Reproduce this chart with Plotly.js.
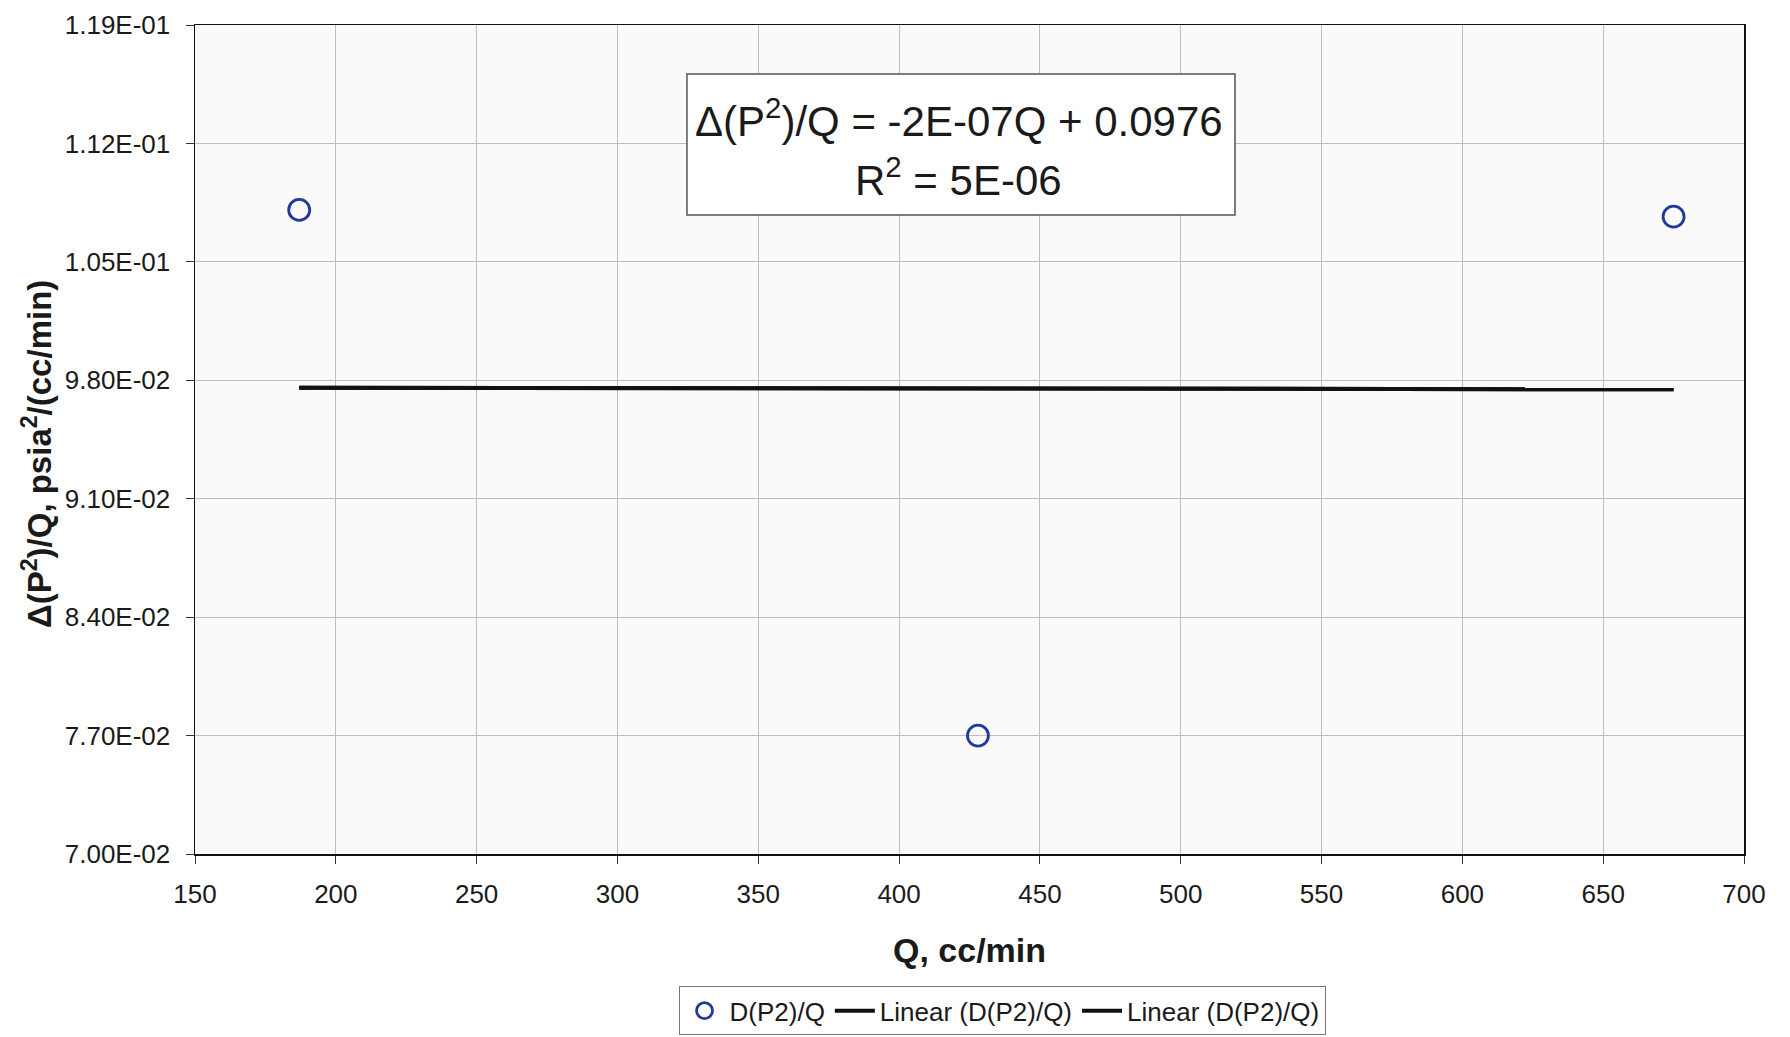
<!DOCTYPE html>
<html>
<head>
<meta charset="utf-8">
<script src="https://cdn.plot.ly/plotly-3.0.1.min.js"></script>
<style>
  html, body { margin: 0; padding: 0; background: #ffffff; }
  #chart { width: 1790px; height: 1037px; }
</style>
</head>
<body>
<div id="chart"></div>
<script>
// Flow rate Q (cc/min) and measured Δ(P²)/Q
const flowRate = [187, 428, 675];
const dP2OverQ = [0.10807, 0.07700, 0.10767];

// Linear trendline coefficients, as printed in the equation box
const trendSlope = -2e-7;
const trendIntercept = 0.0976;
const trendR2 = '5E-06';

// Trendline drawn across the span of the measurements
const trendQ = [Math.min(...flowRate), Math.max(...flowRate)];
const trendY = trendQ.map(q => trendSlope * q + trendIntercept);

// Y axis ticks in spreadsheet-style scientific notation
const yTickVals = [0.070, 0.077, 0.084, 0.091, 0.098, 0.105, 0.112, 0.119];
const yTickLabels = ['7.00E-02', '7.70E-02', '8.40E-02', '9.10E-02', '9.80E-02', '1.05E-01', '1.12E-01', '1.19E-01'];

const seriesName = 'D(P2)/Q';
const trendName = 'Linear (D(P2)/Q)';
const yTitle = '<b>Δ(P<sup>2</sup>)/Q, psia<sup>2</sup>/(cc/min)</b>';

const font = 'Liberation Sans, Arial, sans-serif';

const traces = [
  {
    x: flowRate, y: dP2OverQ, name: seriesName,
    type: 'scatter', mode: 'markers',
    marker: { symbol: 'circle-open', size: 21, color: '#20399a', line: { width: 2.8, color: '#20399a' } }
  },
  {
    x: trendQ, y: trendY, name: trendName,
    type: 'scatter', mode: 'lines',
    line: { color: '#111111', width: 4 }
  },
  {
    x: trendQ, y: trendY, name: trendName,
    type: 'scatter', mode: 'lines',
    line: { color: '#111111', width: 4 }
  }
];

const layout = {
  width: 1790, height: 1037,
  margin: { l: 195, r: 46, t: 25, b: 183, autoexpand: false },
  paper_bgcolor: '#ffffff',
  plot_bgcolor: '#fafafa',
  font: { family: font, color: '#1a1a1a', size: 26 },
  showlegend: true,
  legend: {
    orientation: 'h',
    x: 0.521, xanchor: 'center',
    y: -0.1595, yanchor: 'top',
    bgcolor: '#ffffff',
    bordercolor: '#777777', borderwidth: 1,
    font: { family: font, size: 26, color: '#1a1a1a' },
    itemwidth: 40,
    tracegroupgap: 0
  },
  xaxis: {
    range: [150, 700],
    dtick: 50, tick0: 150,
    showgrid: true, gridcolor: '#bdbdbd', gridwidth: 1,
    zeroline: false,
    showline: true, linecolor: '#111111', linewidth: 1.5, mirror: true,
    ticks: 'outside', ticklen: 8, tickcolor: '#333333',
    ticklabelstandoff: 8,
    tickfont: { family: font, size: 26, color: '#1a1a1a' },
    title: { text: '<b>Q, cc/min</b>', font: { family: font, size: 34, color: '#1a1a1a' }, standoff: 30 },
    automargin: false
  },
  yaxis: {
    range: [0.070, 0.119],
    tickmode: 'array', tickvals: yTickVals, ticktext: yTickLabels,
    showgrid: true, gridcolor: '#bdbdbd', gridwidth: 1,
    zeroline: false,
    showline: true, linecolor: '#111111', linewidth: 1.5, mirror: true,
    ticks: 'outside', ticklen: 8, tickcolor: '#333333',
    ticklabelstandoff: 10,
    tickfont: { family: font, size: 26, color: '#1a1a1a' },
    automargin: false
  },
  shapes: [
    {
      type: 'rect', xref: 'paper', yref: 'paper',
      x0: 0.3176, x1: 0.6714, y0: 0.7708, y1: 0.9409,
      fillcolor: '#ffffff', line: { color: '#555555', width: 1.5 },
      layer: 'above'
    }
  ],
  annotations: [
    {
      xref: 'paper', yref: 'paper', x: 0.4932, y: 0.8883,
      xanchor: 'center', yanchor: 'middle', showarrow: false,
      text: 'Δ(P<sup>2</sup>)/Q = ' + (trendSlope < 0 ? '-' : '') + '2E-07Q + ' + trendIntercept,
      font: { family: font, size: 42, color: '#1a1a1a' }
    },
    {
      xref: 'paper', yref: 'paper', x: 0.4932, y: 0.8166,
      xanchor: 'center', yanchor: 'middle', showarrow: false,
      text: 'R<sup>2</sup> = ' + trendR2,
      font: { family: font, size: 42, color: '#1a1a1a' }
    },
    {
      // vertical axis title
      xref: 'paper', yref: 'paper', x: -0.102, y: 0.4825,
      xanchor: 'center', yanchor: 'middle', showarrow: false,
      textangle: -90,
      text: yTitle,
      font: { family: font, size: 33, color: '#1a1a1a' }
    }
  ]
};

Plotly.newPlot('chart', traces, layout, { displayModeBar: false, staticPlot: true });
</script>
</body>
</html>
